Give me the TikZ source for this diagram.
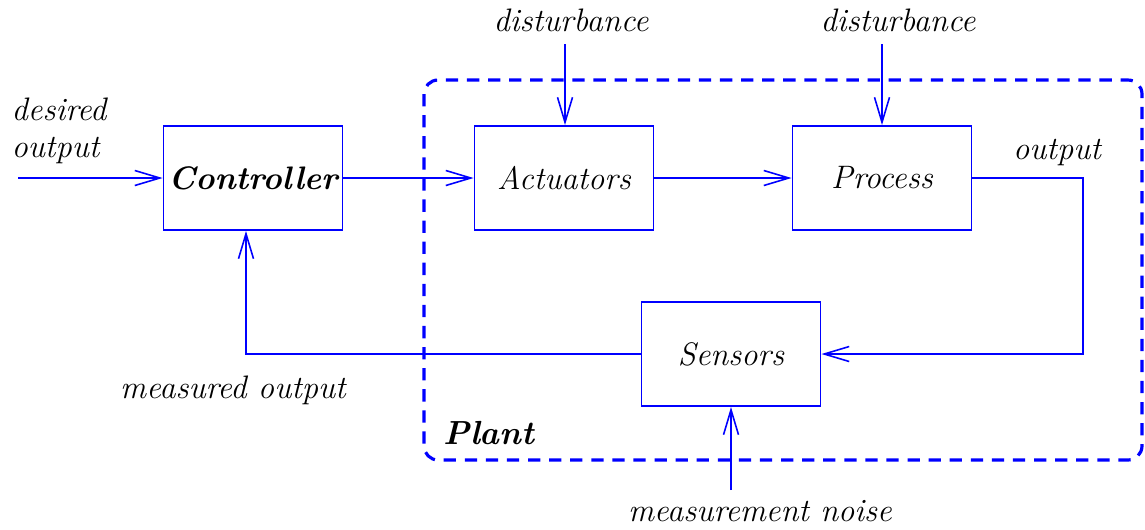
\documentclass[tikz,border=0pt]{standalone}
\usetikzlibrary{arrows.meta}
\usetikzlibrary{calc}

\begin{document}
\begin{tikzpicture}[x=0.02cm,y=-0.02cm,
	every node/.style={font=\fontsize{18.5}{21}\selectfont\itshape},
	block/.style={draw=blue,line width=1.1pt,minimum width=3.58cm,minimum height=2.08cm,inner sep=0pt},
	wire/.style={draw=blue,line width=1.1pt,-{Straight Barb[length=5mm,width=3mm,line width=0.9pt]}},
	lbl/.style={inner sep=0pt,align=left}]
	\useasboundingbox (0,0) rectangle (1145,529);
	% plant border
	\draw[blue,line width=1.8pt,dash pattern=on 7pt off 5pt,rounded corners=8pt] (424,80) rectangle (1142,460);
	\node[lbl,font=\fontsize{19}{22}\selectfont\bfseries\itshape] (plant) at (489,433) {Plant};
	% blocks
	\node[block,font=\fontsize{18.5}{22}\selectfont\bfseries\itshape] (ctrl) at (253,178) {Controller};
	\node[block] (act) at (564,178) {Actuators};
	\node[block] (proc) at (882,178) {Process};
	\node[block] (sens) at (731,354) {Sensors};
	% labels
	\node[lbl] (desired) at (59,131) {desired\\output};
	\node[lbl] (dist1) at (571,20) {disturbance};
	\node[lbl] (dist2) at (898,20) {disturbance};
	\node[lbl] (out) at (1057,152) {output};
	\node[lbl] (meas) at (233,390) {measured output};
	\node[lbl] (noise) at (760,511) {measurement noise};
	\coordinate (din) at (18,178);
	\coordinate (d1) at (565,44);
	\coordinate (d2) at (882,44);
	\coordinate (nz) at (731,490);
	\coordinate (turn) at (1083,354);
	\coordinate (back) at (246,354);
	% connectors
	\draw[wire] (din) -- (ctrl.west);
	\draw[wire] (ctrl.east) -- (act.west);
	\draw[wire] (act.east) -- (proc.west);
	\draw[wire] (d1) -- (d1 |- act.north);
	\draw[wire] (d2) -- (proc.north);
	\draw[wire] (proc.east) -| (turn) -- (sens.east);
	\draw[wire] (sens.west) -- (back) -- (back |- ctrl.south);
	\draw[wire] (nz) -- (sens.south);
\end{tikzpicture}
\end{document}
